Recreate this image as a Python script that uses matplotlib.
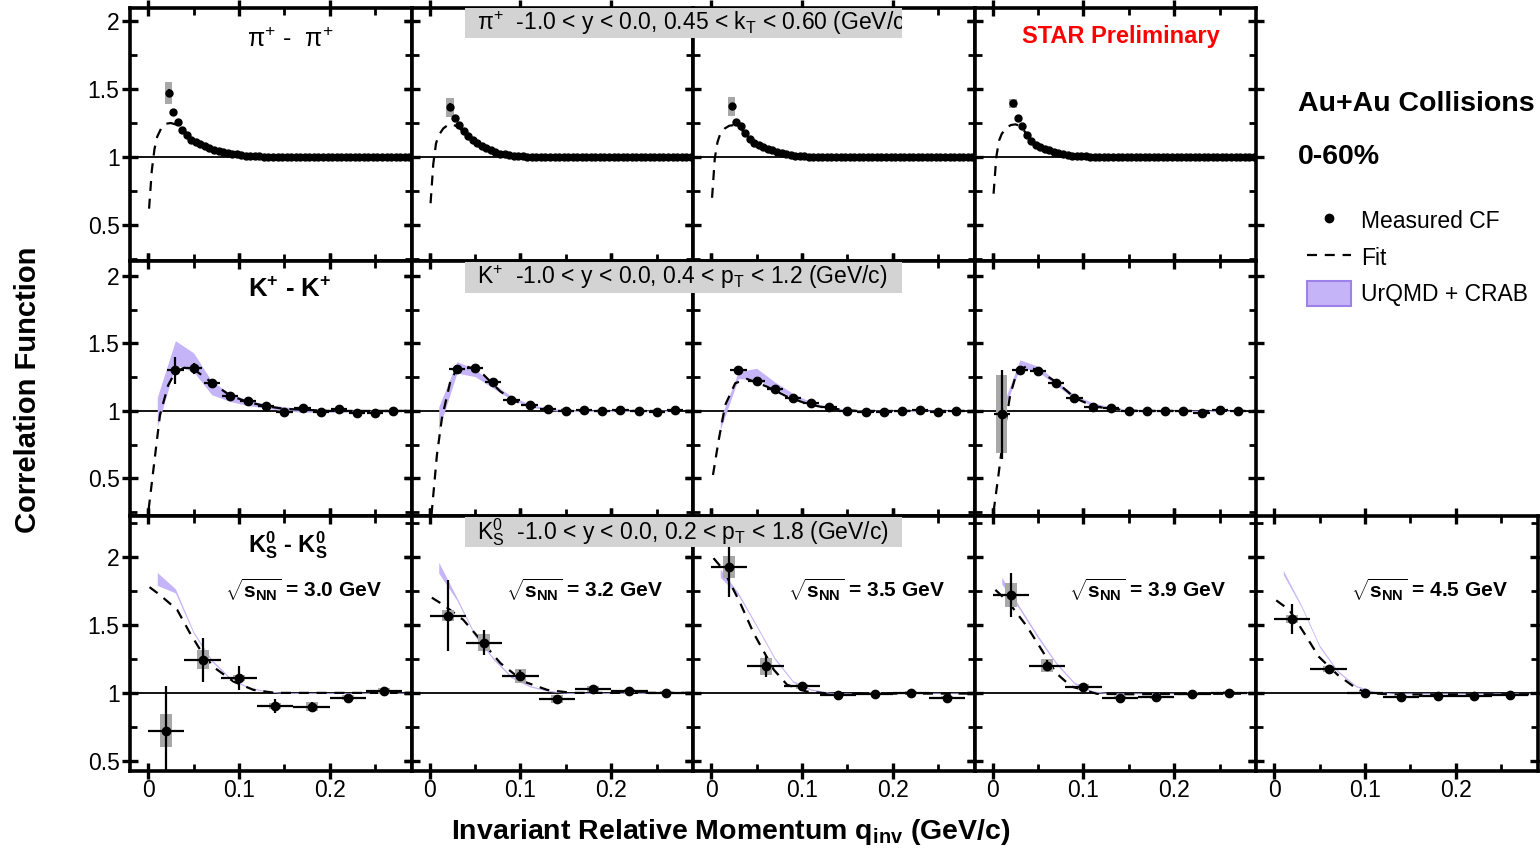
"""STAR femtoscopy summary: pi+pi+, K+K+ and K0sK0s correlation functions vs q_inv
for five collision energies (Au+Au, 0-60%). Headless (Agg backend), writes out.png."""

import numpy as np

import matplotlib
matplotlib.use("Agg")
import matplotlib.pyplot as plt   # noqa: E402
from matplotlib.lines import Line2D   # noqa: E402
from matplotlib.patches import Patch, Rectangle   # noqa: E402
from matplotlib.ticker import MultipleLocator, FuncFormatter   # noqa: E402

plt.rcParams["font.family"] = ["Liberation Sans", "DejaVu Sans"]
plt.rcParams["mathtext.fontset"] = "custom"
plt.rcParams["mathtext.rm"] = "Liberation Sans"
plt.rcParams["mathtext.it"] = "Liberation Sans:italic"
plt.rcParams["mathtext.bf"] = "Liberation Sans:bold"

energies = ["3.0", "3.2", "3.5", "3.9", "4.5"]

# ---------------- pi+ pi+ (first four energies), 5 MeV/c bins ----------------
pi_q = np.arange(0.0225, 0.29, 0.005)   # bin centres
pi_cf = [
    [1.47, 1.33, 1.26, 1.20, 1.16, 1.125, 1.11, 1.095, 1.08, 1.065,
     1.055, 1.045, 1.04, 1.03, 1.025, 1.02, 1.015, 1.01, 1.01, 1.005,
     1.005, 1.00, 1.00, 1.00, 1.00, 1.00, 1.00, 1.00, 1.00, 1.00,
     1.00, 1.00, 1.00, 1.00, 1.00, 1.00, 1.00, 1.00, 1.00, 1.00,
     1.00, 1.00, 1.00, 1.00, 1.00, 1.00, 1.00, 1.00, 1.00, 1.00,
     1.00, 1.00, 1.00, 1.00],
    [1.365, 1.285, 1.235, 1.19, 1.155, 1.125, 1.105, 1.08, 1.065, 1.05,
     1.035, 1.025, 1.02, 1.015, 1.01, 1.005, 1.005, 1.00, 1.00, 1.00,
     1.00, 1.00, 1.00, 1.00, 1.00, 1.00, 1.00, 1.00, 1.00, 1.00,
     1.00, 1.00, 1.00, 1.00, 1.00, 1.00, 1.00, 1.00, 1.00, 1.00,
     1.00, 1.00, 1.00, 1.00, 1.00, 1.00, 1.00, 1.00, 1.00, 1.00,
     1.00, 1.00, 1.00, 1.00],
    [1.375, 1.26, 1.225, 1.18, 1.135, 1.105, 1.09, 1.075, 1.06, 1.05,
     1.04, 1.03, 1.02, 1.015, 1.01, 1.005, 1.005, 1.00, 1.00, 1.00,
     1.00, 1.00, 1.00, 1.00, 1.00, 1.00, 1.00, 1.00, 1.00, 1.00,
     1.00, 1.00, 1.00, 1.00, 1.00, 1.00, 1.00, 1.00, 1.00, 1.00,
     1.00, 1.00, 1.00, 1.00, 1.00, 1.00, 1.00, 1.00, 1.00, 1.00,
     1.00, 1.00, 1.00, 1.00],
    [1.395, 1.285, 1.23, 1.165, 1.12, 1.09, 1.075, 1.06, 1.05, 1.04,
     1.03, 1.025, 1.015, 1.01, 1.01, 1.005, 1.005, 1.00, 1.00, 1.00,
     1.00, 1.00, 1.00, 1.00, 1.00, 1.00, 1.00, 1.00, 1.00, 1.00,
     1.00, 1.00, 1.00, 1.00, 1.00, 1.00, 1.00, 1.00, 1.00, 1.00,
     1.00, 1.00, 1.00, 1.00, 1.00, 1.00, 1.00, 1.00, 1.00, 1.00,
     1.00, 1.00, 1.00, 1.00],
]
pi_first_stat = [0.03, 0.03, 0.025, 0.012]    # only the first bin has visible errors
pi_first_sys = [0.08, 0.07, 0.07, 0.035]
pi_fit_q = [0.001, 0.004, 0.007, 0.010, 0.015, 0.020, 0.025, 0.030, 0.035, 0.040,
            0.050, 0.060, 0.070, 0.080, 0.100, 0.120, 0.150, 0.200, 0.290]
pi_fit = [
    [0.62, 0.90, 1.06, 1.15, 1.22, 1.245, 1.25, 1.24, 1.22, 1.19,
     1.13, 1.09, 1.065, 1.045, 1.02, 1.01, 1.0, 1.0, 1.0],
    [0.66, 0.95, 1.10, 1.16, 1.21, 1.235, 1.24, 1.225, 1.20, 1.17,
     1.12, 1.08, 1.05, 1.03, 1.01, 1.005, 1.0, 1.0, 1.0],
    [0.70, 0.99, 1.11, 1.17, 1.21, 1.23, 1.235, 1.225, 1.19, 1.16,
     1.10, 1.065, 1.04, 1.025, 1.01, 1.0, 1.0, 1.0, 1.0],
    [0.73, 1.00, 1.12, 1.17, 1.215, 1.235, 1.24, 1.23, 1.19, 1.15,
     1.095, 1.06, 1.04, 1.025, 1.01, 1.0, 1.0, 1.0, 1.0],
]

# ---------------- K+ K+ (first four energies), 20 MeV/c bins ----------------
nan = np.nan
kp_q = [0.01, 0.03, 0.05, 0.07, 0.09, 0.11, 0.13, 0.15, 0.17, 0.19, 0.21, 0.23, 0.25, 0.27]
kp_cf = [
    [nan, 1.30, 1.316, 1.21, 1.113, 1.07, 1.04, 0.995, 1.025, 0.995, 1.012, 0.983, 0.983, 1.0],
    [nan, 1.309, 1.316, 1.213, 1.081, 1.044, 1.015, 1.0, 1.005, 1.0, 1.01, 1.0, 0.99, 1.01],
    [nan, 1.304, 1.225, 1.16, 1.099, 1.057, 1.032, 1.0, 0.995, 0.995, 1.0, 1.01, 0.995, 1.0],
    [0.975, 1.30, 1.296, 1.21, 1.094, 1.032, 1.02, 1.0, 1.0, 1.0, 1.0, 0.988, 1.005, 1.0],
]
kp_stat = [
    [nan, 0.10, 0.04, 0.02, 0.015, 0.01, 0.01, 0.01, 0.01, 0.01, 0.01, 0.01, 0.01, 0.01],
    [nan, 0.03, 0.02, 0.015, 0.01, 0.01, 0.01, 0.01, 0.01, 0.01, 0.01, 0.01, 0.01, 0.01],
    [nan, 0.03, 0.015, 0.01, 0.01, 0.01, 0.01, 0.01, 0.01, 0.01, 0.01, 0.01, 0.01, 0.01],
    [0.33, 0.03, 0.02, 0.015, 0.01, 0.01, 0.01, 0.01, 0.01, 0.01, 0.01, 0.01, 0.01, 0.01],
]
kp_first_sys = [0.0, 0.0, 0.0, 0.29]
kp_fit_q = [
    [0.0005, 0.0077, 0.013, 0.022, 0.030, 0.040, 0.050, 0.060, 0.070, 0.090, 0.110, 0.130, 0.150, 0.200, 0.290],
    [0.002, 0.008, 0.0135, 0.0227, 0.030, 0.040, 0.050, 0.0595, 0.078, 0.095, 0.115, 0.140, 0.170, 0.290],
    [0.002, 0.008, 0.0155, 0.0265, 0.0394, 0.0615, 0.0836, 0.1057, 0.128, 0.160, 0.290],
    [0.001, 0.0064, 0.012, 0.0193, 0.0267, 0.037, 0.050, 0.071, 0.091, 0.111, 0.130, 0.160, 0.290],
]
kp_fit = [
    [0.27, 0.674, 0.97, 1.19, 1.29, 1.32, 1.31, 1.26, 1.21, 1.115, 1.065, 1.035, 1.015, 1.0, 1.0],
    [0.23, 0.674, 0.946, 1.217, 1.31, 1.33, 1.31, 1.267, 1.143, 1.07, 1.03, 1.01, 1.0, 1.0],
    [0.526, 0.773, 1.044, 1.205, 1.237, 1.18, 1.106, 1.052, 1.02, 1.0, 1.0],
    [0.254, 0.526, 0.82, 1.118, 1.29, 1.33, 1.30, 1.21, 1.094, 1.035, 1.015, 1.0, 1.0],
]
kp_band_lo = [
    [0.88, 1.34, 1.29, 1.12, 1.07, 1.04, 1.02, 1.0, 0.99, 0.99, 0.99, 0.99, 0.99, 0.995],
    [0.86, 1.28, 1.254, 1.168, 1.085, 1.03, 1.005, 0.995, 0.995, 0.995, 0.995, 0.995, 0.995, 0.995],
    [0.86, 1.24, 1.23, 1.165, 1.10, 1.05, 1.02, 1.0, 0.995, 0.995, 0.995, 0.995, 0.995, 0.995],
    [0.96, 1.32, 1.29, 1.19, 1.09, 1.04, 1.01, 0.995, 0.995, 0.995, 0.995, 0.995, 0.995, 0.995],
]
kp_band_hi = [
    [1.10, 1.52, 1.43, 1.22, 1.13, 1.08, 1.05, 1.03, 1.02, 1.01, 1.01, 1.005, 1.005, 1.005],
    [1.03, 1.365, 1.31, 1.20, 1.11, 1.05, 1.02, 1.01, 1.005, 1.005, 1.005, 1.005, 1.005, 1.005],
    [0.94, 1.29, 1.316, 1.215, 1.13, 1.065, 1.03, 1.01, 1.005, 1.005, 1.005, 1.005, 1.005, 1.005],
    [1.02, 1.378, 1.33, 1.22, 1.12, 1.06, 1.03, 1.005, 1.005, 1.005, 1.005, 1.005, 1.005, 1.005],
]

# ---------------- K0s K0s (all five energies), 40 MeV/c bins ----------------
k0_q = [0.02, 0.06, 0.10, 0.14, 0.18, 0.22, 0.26]
k0_cf = [
    [0.723, 1.243, 1.108, 0.904, 0.90, 0.965, 1.015],
    [1.566, 1.37, 1.125, 0.956, 1.03, 1.015, 1.002],
    [1.924, 1.194, 1.047, 0.985, 0.993, 1.002, 0.965],
    [1.72, 1.20, 1.042, 0.966, 0.968, 0.993, 1.002],
    [1.544, 1.176, 1.002, 0.973, 0.978, 0.978, 0.985],
]
k0_stat = [
    [0.33, 0.16, 0.09, 0.05, 0.03, 0.03, 0.02],
    [0.26, 0.095, 0.04, 0.03, 0.02, 0.015, 0.01],
    [0.22, 0.075, 0.02, 0.02, 0.015, 0.015, 0.01],
    [0.16, 0.04, 0.02, 0.015, 0.015, 0.01, 0.01],
    [0.11, 0.03, 0.015, 0.01, 0.01, 0.01, 0.01],
]
k0_sys = [
    [0.12, 0.07, 0.02, 0.025, 0.035, 0.02, 0.02],
    [0.04, 0.065, 0.05, 0.03, 0.02, 0.015, 0.01],
    [0.08, 0.06, 0.02, 0.01, 0.01, 0.01, 0.01],
    [0.09, 0.05, 0.02, 0.01, 0.01, 0.015, 0.01],
    [0.03, 0.02, 0.01, 0.01, 0.01, 0.01, 0.01],
]
k0_fit_q = [
    [0.0015, 0.013, 0.032, 0.046, 0.057, 0.072, 0.094, 0.116, 0.140, 0.290],
    [0.0024, 0.015, 0.037, 0.056, 0.078, 0.1037, 0.1295, 0.157, 0.290],
    [0.0026, 0.0136, 0.032, 0.0467, 0.069, 0.0836, 0.105, 0.130, 0.290],
    [0.003, 0.017, 0.0376, 0.054, 0.070, 0.0866, 0.115, 0.150, 0.290],
    [0.0023, 0.0166, 0.033, 0.049, 0.070, 0.090, 0.102, 0.130, 0.290],
]
k0_fit = [
    [1.777, 1.72, 1.61, 1.44, 1.32, 1.19, 1.083, 1.022, 1.0, 1.0],
    [1.70, 1.647, 1.537, 1.39, 1.218, 1.083, 1.022, 1.0, 1.0],
    [1.99, 1.904, 1.66, 1.44, 1.17, 1.06, 1.01, 0.995, 0.995],
    [1.757, 1.67, 1.49, 1.316, 1.145, 1.047, 0.993, 0.99, 0.995],
    [1.68, 1.61, 1.44, 1.267, 1.132, 1.035, 1.0, 0.988, 0.99],
]
k0_band_q = [0.01, 0.03, 0.05, 0.07, 0.09, 0.11, 0.13, 0.15, 0.29]
k0_band_lo = [
    [1.79, 1.735, 1.435, 1.23, 1.103, 1.035, 1.008, 0.997, 0.995],
    [1.88, 1.68, 1.415, 1.245, 1.11, 1.045, 1.012, 0.997, 0.995],
    [1.85, 1.715, 1.485, 1.245, 1.078, 1.02, 0.998, 0.995, 0.995],
    [1.80, 1.61, 1.40, 1.21, 1.065, 1.005, 0.993, 0.993, 0.995],
    [1.87, 1.63, 1.335, 1.152, 1.045, 1.003, 0.993, 0.993, 0.995],
]
k0_band_hi = [
    [1.885, 1.765, 1.45, 1.245, 1.115, 1.045, 1.015, 1.003, 1.0],
    [1.96, 1.70, 1.43, 1.26, 1.125, 1.055, 1.02, 1.003, 1.0],
    [1.91, 1.735, 1.50, 1.26, 1.09, 1.03, 1.005, 1.0, 1.0],
    [1.85, 1.63, 1.42, 1.225, 1.078, 1.015, 1.0, 1.0, 1.0],
    [1.90, 1.645, 1.35, 1.165, 1.055, 1.012, 1.0, 1.0, 1.0],
]

# ---------------- layout (pixels of the 1540x850 canvas) ----------------
W, H = 1540, 850
COL_X = [130, 411.5, 693, 974.5, 1256, 1537.5]
ROW_Y = [8, 261, 516, 771]
YLIMS = [(0.235, 2.096), (0.222, 2.11), (0.426, 2.30)]
BAND_C = "#c6b4f8"
SYS_C = "#a8a8a8"


def px_rect(x0, y0, x1, y1):
    """Pixel box (top-left origin) -> figure-fraction rect."""
    return [x0 / W, 1 - y1 / H, (x1 - x0) / W, (y1 - y0) / H]


def style_axes(ax, ylim, show_x, show_y):
    ax.set_xlim(-0.02, 0.29)
    ax.set_ylim(*ylim)
    ax.xaxis.set_major_locator(MultipleLocator(0.1))
    ax.xaxis.set_minor_locator(MultipleLocator(0.05))
    ax.yaxis.set_major_locator(MultipleLocator(0.5))
    ax.yaxis.set_minor_locator(MultipleLocator(0.25))
    fmt = FuncFormatter(lambda v, _: f"{v:g}")
    ax.xaxis.set_major_formatter(fmt)
    ax.yaxis.set_major_formatter(fmt)
    ax.tick_params(which="major", direction="inout", length=11, width=2.4,
                   top=True, right=True, labelsize=16.5, pad=2)
    ax.tick_params(axis="x", which="major", pad=0.5)
    ax.tick_params(which="minor", direction="in", length=5, width=2.0, top=True, right=True)
    ax.tick_params(labelbottom=show_x, labelleft=show_y)
    for s in ax.spines.values():
        s.set_linewidth(2.6)
    ax.axhline(1.0, color="black", lw=1.3, zorder=1.2)


def fit_line(ax, q, y):
    ax.plot(q, y, color="black", lw=1.6, ls=(0, (4.5, 3.5)), zorder=2)


fig = plt.figure(figsize=(W / 100, H / 100), dpi=100)

# row 0: pions
for j in range(4):
    ax = fig.add_axes(px_rect(COL_X[j], ROW_Y[0], COL_X[j + 1], ROW_Y[1]))
    style_axes(ax, YLIMS[0], False, j == 0)
    fit_line(ax, pi_fit_q, pi_fit[j])
    ax.bar(pi_q[0], 2 * pi_first_sys[j], width=0.008, bottom=pi_cf[j][0] - pi_first_sys[j],
           color=SYS_C, zorder=2.5)
    ax.errorbar(pi_q[:1], pi_cf[j][:1], yerr=pi_first_stat[j], fmt="none",
                ecolor="black", elinewidth=1.6, zorder=3)
    ax.plot(pi_q, pi_cf[j], "o", color="black", ms=5, zorder=3)

# row 1: charged kaons
for j in range(4):
    ax = fig.add_axes(px_rect(COL_X[j], ROW_Y[1], COL_X[j + 1], ROW_Y[2]))
    style_axes(ax, YLIMS[1], False, j == 0)
    ax.fill_between(kp_q, kp_band_lo[j], kp_band_hi[j], color=BAND_C, lw=0, zorder=1.5)
    fit_line(ax, kp_fit_q[j], kp_fit[j])
    if kp_first_sys[j] > 0:
        ax.bar(kp_q[0], 2 * kp_first_sys[j], width=0.012, bottom=kp_cf[j][0] - kp_first_sys[j],
               color=SYS_C, zorder=2.5)
    ax.errorbar(kp_q, kp_cf[j], yerr=kp_stat[j], xerr=0.009, fmt="o", color="black",
                ms=6, elinewidth=1.6, capsize=0, zorder=3)

# row 2: neutral kaons
for j in range(5):
    ax = fig.add_axes(px_rect(COL_X[j], ROW_Y[2], COL_X[j + 1], ROW_Y[3]))
    style_axes(ax, YLIMS[2], True, j == 0)
    ax.fill_between(k0_band_q, k0_band_lo[j], k0_band_hi[j], color=BAND_C, lw=0, zorder=1.5)
    fit_line(ax, k0_fit_q[j], k0_fit[j])
    ax.bar(k0_q, 2 * np.array(k0_sys[j]), width=0.013,
           bottom=np.array(k0_cf[j]) - np.array(k0_sys[j]), color=SYS_C, zorder=2.5)
    ax.errorbar(k0_q, k0_cf[j], yerr=k0_stat[j], xerr=0.02, fmt="o", color="black",
                ms=6, elinewidth=1.6, capsize=0, zorder=3)
    ax.text(0.615, 0.71, r"$\sqrt{\mathbf{s}_{\mathbf{NN}}}$" + f" = {energies[j]} GeV",
            transform=ax.transAxes, ha="center", va="center", fontsize=15, fontweight="bold")
    if j == 0:
        ax.text(0.56, 0.886, r"$\mathbf{K^{0}_{S}}$ - $\mathbf{K^{0}_{S}}$", transform=ax.transAxes,
                ha="center", va="center", fontsize=17, fontweight="bold")

fig.axes[0].text(0.568, 0.873, "π$^{+}$ -  π$^{+}$", transform=fig.axes[0].transAxes,
                 ha="center", va="center", fontsize=18)
fig.axes[4].text(0.568, 0.886, r"$\mathbf{K^{+}}$ - $\mathbf{K^{+}}$", transform=fig.axes[4].transAxes,
                 ha="center", va="center", fontsize=18.5, fontweight="bold")
fig.axes[3].text(0.519, 0.889, "STAR Preliminary", transform=fig.axes[3].transAxes,
                 ha="center", va="center", fontsize=17, fontweight="bold", color="red")

# grey kinematic banners across panels 2-3
banners = [
    (8, 38, r"π$^{+}$  -1.0 < y < 0.0, 0.45 < k$_{\rm T}$ < 0.60 (GeV/c)"),
    (262, 293, r"K$^{+}$  -1.0 < y < 0.0, 0.4 < p$_{\rm T}$ < 1.2 (GeV/c)"),
    (517, 547, r"K$^{0}_{\rm S}$  -1.0 < y < 0.0, 0.2 < p$_{\rm T}$ < 1.8 (GeV/c)"),
]
for y0, y1, txt in banners:
    r = px_rect(465, y0, 902, y1)
    rect = Rectangle((r[0], r[1]), r[2], r[3], transform=fig.transFigure,
                     facecolor="#d3d3d3", edgecolor="none", zorder=5)
    fig.add_artist(rect)
    t = fig.text(477 / W, 1 - (y0 + y1) / 2 / H, txt, ha="left", va="center",
                 fontsize=16.5, zorder=6)
    t.set_clip_path(rect)

# axis titles
fig.text(28 / W, 1 - 390 / H, "Correlation Function", rotation=90, ha="center", va="center",
         fontsize=21, fontweight="bold")
fig.text(731 / W, 1 - 832 / H, r"Invariant Relative Momentum q$_{\mathbf{inv}}$ (GeV/c)",
         ha="center", va="center", fontsize=20.5, fontweight="bold")

# legend block on the right
fig.text(1298 / W, 1 - 104 / H, "Au+Au Collisions", ha="left", va="center",
         fontsize=20.5, fontweight="bold")
fig.text(1298 / W, 1 - 157 / H, "0-60%", ha="left", va="center", fontsize=20.5, fontweight="bold")
handles = [
    Line2D([], [], marker="o", ls="none", color="black", ms=6),
    Line2D([], [], color="black", lw=1.6, ls=(0, (4.5, 3.5))),
    Patch(facecolor=BAND_C, edgecolor="#9d80ea", lw=1.5),
]
fig.legend(handles, ["Measured CF", "Fit", "UrQMD + CRAB"], loc="center left",
           bbox_to_anchor=(1307 / W, 1 - 257 / H), frameon=False, fontsize=16.5,
           handlelength=1.9, handleheight=1.3, handletextpad=0.45, labelspacing=0.5,
           borderpad=0, borderaxespad=0)

fig.savefig("out.png", dpi=100)
plt.close(fig)
